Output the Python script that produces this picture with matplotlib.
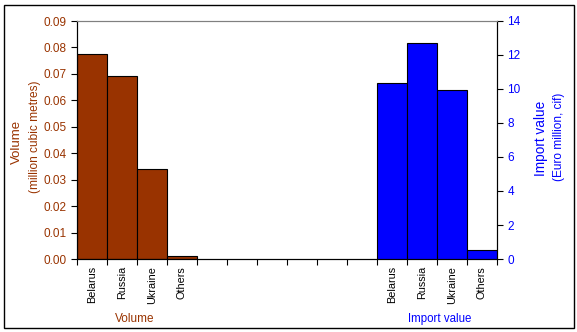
import matplotlib.pyplot as plt
from matplotlib.patches import Rectangle

countries = ['Belarus', 'Russia', 'Ukraine', 'Others']
volume = [0.0774, 0.0691, 0.0339, 0.001]
import_value = [10.33, 12.69, 9.92, 0.51]
n_slots = 14
volume_slots = [0, 1, 2, 3]
value_slots = [10, 11, 12, 13]

brown = '#993300'
blue = '#0000ff'
plt.rcParams['font.family'] = ['Liberation Sans', 'DejaVu Sans']

fig = plt.figure(figsize=(5.77, 3.32), dpi=100)
ax = fig.add_axes([77 / 577, 73 / 332, 420 / 577, 238 / 332])
ax2 = ax.twinx()

ax.bar(volume_slots, volume, width=1, align='edge', color=brown,
       edgecolor='black', linewidth=0.8)
ax2.bar(value_slots, import_value, width=1, align='edge', color=blue,
        edgecolor='black', linewidth=0.8)

ax.set_xlim(0, n_slots)
ax.set_ylim(0, 0.09)
ax2.set_ylim(0, 14)
ax.set_yticks([i * 0.01 for i in range(10)])
ax.set_yticklabels(['%.2f' % (i * 0.01) for i in range(10)])
ax2.set_yticks(range(0, 15, 2))

# ticks on slot boundaries, labels in slot centres
ax.set_xticks(range(n_slots + 1))
ax.set_xticklabels([])
labels = [''] * n_slots
for s, c in zip(volume_slots, countries):
    labels[s] = c
for s, c in zip(value_slots, countries):
    labels[s] = c
ax.set_xticks([i + 0.5 for i in range(n_slots)], minor=True)
ax.set_xticklabels(labels, minor=True, rotation=90, fontsize=7.8)
ax.tick_params(axis='x', which='minor', length=0, pad=5)
ax.tick_params(axis='x', which='major', length=4, direction='out', width=0.8)

ax.tick_params(axis='y', colors='black', labelcolor=brown, labelsize=8.5,
               length=4, width=0.8, direction='out')
ax2.tick_params(axis='y', colors='black', labelcolor=blue, labelsize=8.5,
                length=4, width=0.8, direction='out')

for a in (ax, ax2):
    a.spines['top'].set_color('#808080')
    a.spines['left'].set_linewidth(0.8)
    a.spines['right'].set_linewidth(0.8)
    a.spines['bottom'].set_linewidth(0.8)

fig.text(17 / 577, 1 - 142 / 332, 'Volume', rotation=90, color=brown,
         fontsize=9.5, ha='center', va='center')
fig.text(35 / 577, 1 - 137 / 332, '(million cubic metres)', rotation=90,
         color=brown, fontsize=8.6, ha='center', va='center')
fig.text(541 / 577, 1 - 138 / 332, 'Import value', rotation=90, color=blue,
         fontsize=9.8, ha='center', va='center')
fig.text(559 / 577, 1 - 137 / 332, '(Euro million, cif)', rotation=90,
         color=blue, fontsize=8.6, ha='center', va='center')

fig.text(135 / 577, 1 - 319 / 332, 'Volume', color=brown, fontsize=8.5,
         ha='center', va='center')
fig.text(440 / 577, 1 - 319 / 332, 'Import value', color=blue, fontsize=8.3,
         ha='center', va='center')

fig.patches.append(Rectangle((4 / 577, 4 / 332), 570 / 577, 323 / 332,
                             transform=fig.transFigure, fill=False,
                             edgecolor='black', linewidth=1))

fig.savefig('out.png', dpi=100)
